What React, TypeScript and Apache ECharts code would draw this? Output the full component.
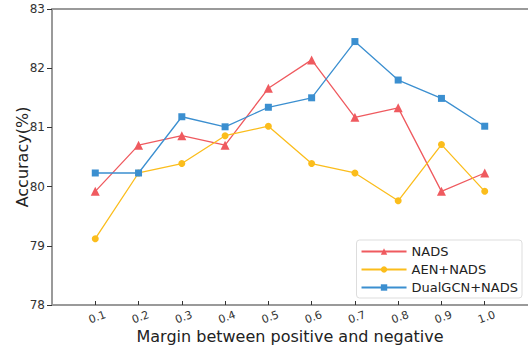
import React, { useEffect, useRef } from "react";
import * as echarts from "echarts";

const margins = [0.1, 0.2, 0.3, 0.4, 0.5, 0.6, 0.7, 0.8, 0.9, 1.0];
const nads = [79.92, 80.7, 80.86, 80.7, 81.66, 82.14, 81.17, 81.33, 79.92, 80.23];
const aenNads = [79.12, 80.23, 80.39, 80.86, 81.02, 80.39, 80.23, 79.76, 80.71, 79.92];
const dualNads = [80.23, 80.23, 81.18, 81.01, 81.34, 81.5, 82.45, 81.8, 81.49, 81.02];
const xTicks = ["0.1", "0.2", "0.3", "0.4", "0.5", "0.6", "0.7", "0.8", "0.9", "1.0"];

const FONT = "DejaVu Sans";

export default function App() {
  const ref = useRef<HTMLDivElement>(null);
  useEffect(() => {
    if (!ref.current) return;
    const chart = echarts.init(ref.current, undefined, { renderer: "svg" });
    const mk = (vals: number[]) => margins.map((m, i) => [m, vals[i]]);
    const axisLineStyle = { color: "#9a9a9a", width: 2 };
    chart.setOption({
      animation: false,
      grid: { left: 52, right: 0, top: 9, bottom: 42, containLabel: false, outerBoundsMode: "none" },
      textStyle: { fontFamily: FONT },
      xAxis: [
        {
          type: "value",
          min: 0,
          max: 1.1,
          interval: 0.1,
          name: "Margin between positive and negative",
          nameLocation: "middle",
          nameGap: 23,
          nameMoveOverlap: false,
          nameTextStyle: { fontFamily: FONT, fontSize: 16, color: "#222" },
          axisLine: { show: true, lineStyle: axisLineStyle },
          axisTick: { show: true, inside: true, length: 4, lineStyle: { color: "#333" }, customValues: margins },
          axisLabel: {
            customValues: margins,
            rotate: 20,
            align: "center",
            verticalAlign: "top",
            fontFamily: FONT,
            fontSize: 11,
            color: "#333",
            margin: 7,
            formatter: (v: number) => {
              const i = margins.findIndex((m) => Math.abs(m - v) < 1e-6);
              return i >= 0 ? xTicks[i] : "";
            },
          },
          splitLine: { show: false },
        },
        {
          type: "value",
          position: "top",
          min: 0,
          max: 1.1,
          axisLine: { show: true, lineStyle: axisLineStyle },
          axisTick: { show: false },
          axisLabel: { show: false },
          splitLine: { show: false },
        },
      ],
      yAxis: {
        type: "value",
        min: 78,
        max: 83,
        interval: 1,
        name: "Accuracy(%)",
        nameLocation: "middle",
        nameGap: 22,
        nameMoveOverlap: false,
        nameTextStyle: { fontFamily: FONT, fontSize: 16, color: "#222" },
        axisLine: { show: true, lineStyle: axisLineStyle },
        axisTick: { show: true, length: 5, lineStyle: { color: "#333" } },
        axisLabel: { fontFamily: FONT, fontSize: 12, color: "#333", margin: 7 },
        splitLine: { show: false },
      },
      legend: {
        orient: "vertical",
        right: 6,
        bottom: 49,
        itemWidth: 45,
        itemHeight: 8,
        itemGap: 5,
        padding: [5, 4, 4, 4],
        borderColor: "#dddddd",
        borderWidth: 1,
        borderRadius: 3,
        backgroundColor: "#fff",
        textStyle: { fontFamily: FONT, fontSize: 13, color: "#222" },
        data: ["NADS", "AEN+NADS", "DualGCN+NADS"],
      },
      series: [
        {
          name: "NADS",
          type: "line",
          data: mk(nads),
          symbol: "triangle",
          symbolSize: 9,
          color: "#ef5a5f",
          lineStyle: { width: 1.3, color: "#ef5a5f" },
          itemStyle: { color: "#ef5a5f" },
        },
        {
          name: "AEN+NADS",
          type: "line",
          data: mk(aenNads),
          symbol: "circle",
          symbolSize: 7,
          color: "#fbbd1c",
          lineStyle: { width: 1.3, color: "#fbbd1c" },
          itemStyle: { color: "#fbbd1c" },
        },
        {
          name: "DualGCN+NADS",
          type: "line",
          data: mk(dualNads),
          symbol: "rect",
          symbolSize: 7,
          color: "#3b8fd0",
          lineStyle: { width: 1.3, color: "#3b8fd0" },
          itemStyle: { color: "#3b8fd0" },
        },
      ],
    });
    return () => chart.dispose();
  }, []);
  return <div ref={ref} style={{ width: 528, height: 347, position: "absolute", left: 0, top: 0 }} />;
}
